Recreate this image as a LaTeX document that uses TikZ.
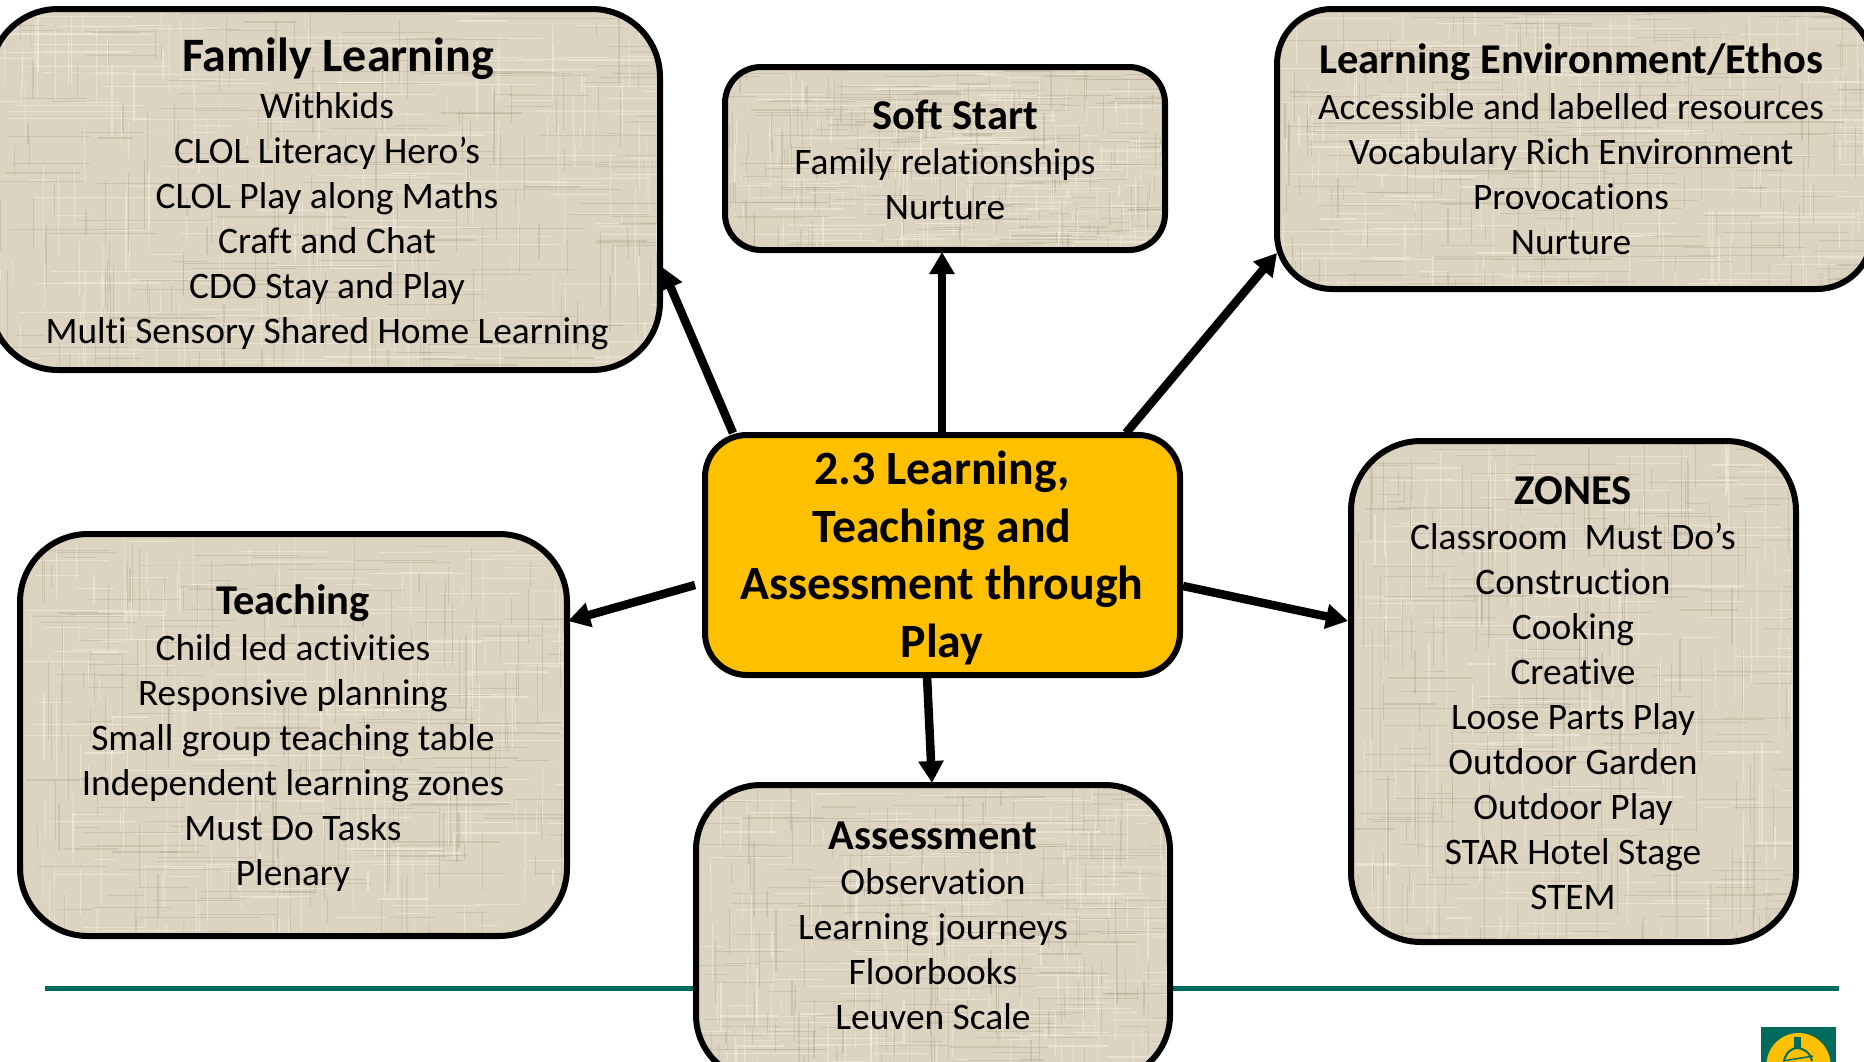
\documentclass[tikz,border=0pt]{standalone}
\usepackage{fontspec}
\setmainfont[Ligatures=NoCommon]{Carlito}
\usetikzlibrary{calc,arrows.meta}
\definecolor{linen}{HTML}{DCD4C1}
\definecolor{linenlight}{HTML}{F4F0E4}
\definecolor{linendark}{HTML}{A89D85}
\definecolor{amber}{HTML}{FFC000}
\definecolor{teal}{HTML}{006B5C}
\pgfmathsetseed{4242}
\newcommand{\ppb}{path picture bounding box}
\newcommand{\linenweave}{%
  \foreach \n in {1,...,280}{%
    \pgfmathsetmacro{\pa}{rnd}\pgfmathsetmacro{\pb}{rnd}%
    \pgfmathsetmacro{\pe}{\pb+0.04+0.18*rnd}%
    \pgfmathsetmacro{\shade}{ifthenelse(rnd<0.5,1,0)}%
    \ifdim\shade pt>0.5pt\def\wcol{linenlight}\def\wop{.5}\else\def\wcol{linendark}\def\wop{.32}\fi
    \draw[sharp corners,line width=1.1pt,draw=\wcol,opacity=\wop]
      ($($(\ppb.north west)!\pa!(\ppb.north east)$)!\pb!($(\ppb.south west)!\pa!(\ppb.south east)$)$) --
      ($($(\ppb.north west)!\pa!(\ppb.north east)$)!\pe!($(\ppb.south west)!\pa!(\ppb.south east)$)$);
    \draw[sharp corners,line width=1.1pt,draw=\wcol,opacity=\wop]
      ($($(\ppb.north west)!\pa!(\ppb.south west)$)!\pb!($(\ppb.north east)!\pa!(\ppb.south east)$)$) --
      ($($(\ppb.north west)!\pa!(\ppb.south west)$)!\pe!($(\ppb.north east)!\pa!(\ppb.south east)$)$);
  }}
\tikzset{
  x=1pt,y=-1pt,
  panel/.style={draw=black,line width=6pt,fill=linen,inner sep=0pt,outer sep=0pt,path picture={\linenweave}},
  hub/.style={draw=black,line width=6pt,fill=amber,inner sep=0pt,outer sep=0pt,rounded corners=42pt,minimum width=475pt,minimum height=240pt},
  heading/.style={font=\fontsize{42.5}{48}\selectfont\bfseries,inner sep=0pt,anchor=center},
  bigheading/.style={font=\fontsize{48}{54}\selectfont\bfseries,inner sep=0pt,anchor=center},
  body/.style={font=\fontsize{37.4}{45}\selectfont,align=center,inner sep=0pt,anchor=center},
  link/.style={draw=black,line width=8.5pt,-{Triangle[length=22pt,width=24pt]}},
}
\begin{document}
\begin{tikzpicture}
\useasboundingbox (0,0) rectangle (1864,1061);
\clip (0,0) rectangle (1864,1061);

% footer rule
\coordinate (ruleL) at (45,988);
\coordinate (ruleR) at (1839,988);
\draw[draw=teal,line width=5pt] (ruleL) -- (ruleR);

% logo
\fill[teal] (1761,1027) rectangle (1836,1075);
\fill[amber] (1798.5,1065) circle (32);
\fill[teal] (1794,1037) rectangle (1801,1048);
\draw[teal,line width=2pt] (1784,1061) .. controls (1786,1052) and (1792,1048) .. (1797,1048) .. controls (1803,1048) and (1810,1052) .. (1812,1061);
\draw[teal,line width=1.5pt] (1783,1061) -- (1813,1056);

% boxes
\node[panel,rounded corners=68pt,minimum width=670pt,minimum height=361pt] (family) at (325,189.5) {};
\node[panel,rounded corners=36pt,minimum width=440pt,minimum height=183pt] (soft) at (945,158.5) {};
\node[panel,rounded corners=55pt,minimum width=595pt,minimum height=280pt] (env) at (1574.5,149) {};
\node[panel,rounded corners=70pt,minimum width=445pt,minimum height=501pt] (zones) at (1573.5,691.5) {};
\node[panel,rounded corners=68pt,minimum width=547pt,minimum height=402pt] (teach) at (293.5,735) {};
\node[panel,rounded corners=65pt,minimum width=474pt,minimum height=295pt] (assess) at (933,932.5) {};
\node[hub] (hub) at (942.5,555) {};

% connectors
\draw[link] ($(hub.north west)+(28,-2)$) -- ($(family.south east)+(2,-103)$);
\draw[link] ($(hub.north west)+(237,-2)$) -- ($(soft.south west)+(217,2)$);
\draw[link] ($(hub.north west)+(421,-2)$) -- ($(env.south west)+(0,-36)$);
\draw[link] ($(hub.north west)+(-10,150)$) -- ($(teach.north east)+(1,87)$);
\draw[link] ($(hub.north east)+(3,151)$) -- ($(zones.north west)+(-3,180)$);
\draw[link] ($(hub.south west)+(222,1)$) -- ($(assess.north west)+(236,-2)$);

% texts
\node[bigheading] (familyT) at (338,59) {Family Learning};
\node[body] (familyB) at (327,221.5) {Withkids\\CLOL Literacy Hero’s\\CLOL Play along Maths\\Craft and Chat\\CDO Stay and Play\\Multi Sensory Shared Home Learning};

\node[heading] (softT) at (955,115) {Soft Start};
\node[body] (softB) at (945,184.5) {Family relationships\\Nurture};

\node[heading] (envT) at (1571,62) {Learning Environment/Ethos};
\node[body] (envB) at (1571,174.5) {Accessible and labelled resources\\Vocabulary Rich Environment\\Provocations\\Nurture};

\node[heading] (zonesT) at (1573,491) {ZONES};
\node[body] (zonesB) at (1573,716.5) {Classroom\ \ Must Do’s\\Construction\\Cooking\\Creative\\Loose Parts Play\\Outdoor Garden\\Outdoor Play\\STAR Hotel Stage\\STEM};

\node[heading] (teachT) at (293,603) {Teaching};
\node[body] (teachB) at (293,763) {Child led activities\\Responsive planning\\Small group teaching table\\Independent learning zones\\Must Do Tasks\\Plenary};

\node[heading] (assessT) at (933,836) {Assessment};
\node[body] (assessB) at (933,949) {Observation\\Learning journeys\\Floorbooks\\Leuven Scale};

\node[font=\fontsize{47.8}{57.5}\selectfont\bfseries,align=center,inner sep=0pt] (hubT) at (942,558) {2.3 Learning,\\Teaching and\\Assessment through\\Play};
\end{tikzpicture}
\end{document}
